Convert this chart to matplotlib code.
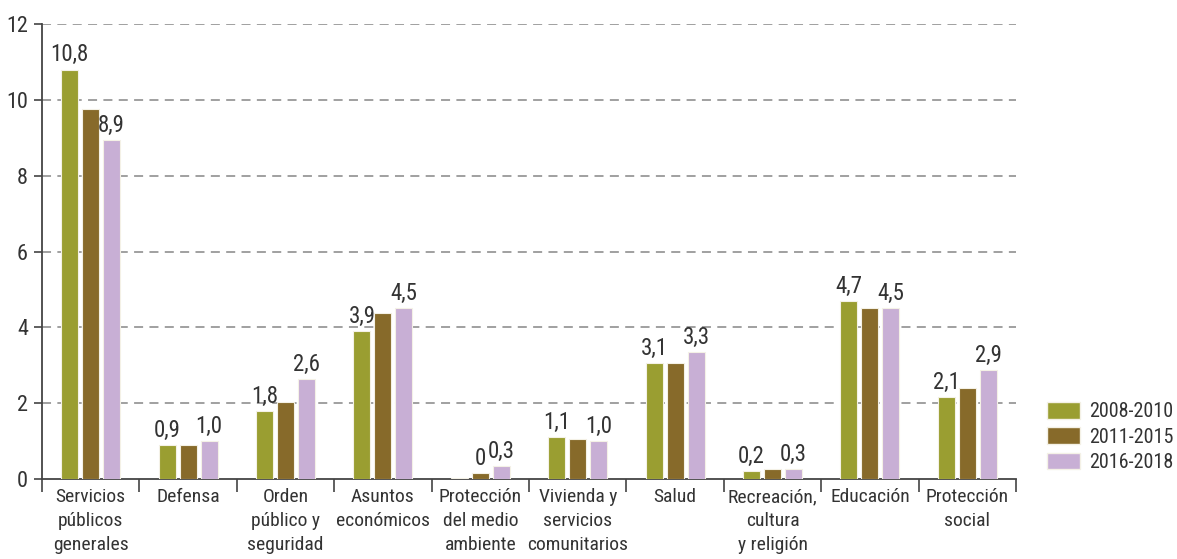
import matplotlib
matplotlib.use("Agg")
import matplotlib.pyplot as plt
import matplotlib.patches as mpatches
from matplotlib import font_manager as fm
import numpy as np

# pick a condensed font close to the original
available = set(f.name for f in fm.fontManager.ttflist)
for cand in ['Roboto Condensed', 'Archivo Narrow', 'PT Sans Narrow', 'Fira Sans Condensed',
             'Liberation Sans Narrow', 'DejaVu Sans']:
    if cand in available:
        font_name = cand
        break
plt.rcParams['font.family'] = [font_name, 'DejaVu Sans']

# Data
categories = ['Servicios\npúblicos\ngenerales', 'Defensa', 'Orden\npúblico y\nseguridad',
              'Asuntos\neconómicos', 'Protección\ndel medio\nambiente', 'Vivienda y\nservicios\ncomunitarios',
              'Salud', 'Recreación,\ncultura\ny religión', 'Educación', 'Protección\nsocial']
series_names = ['2008-2010', '2011-2015', '2016-2018']
v_2008_2010 = [10.8, 0.9, 1.8, 3.9, 0.03, 1.1, 3.05, 0.2, 4.7, 2.15]
v_2011_2015 = [9.75, 0.9, 2.03, 4.38, 0.17, 1.06, 3.05, 0.27, 4.5, 2.39]
v_2016_2018 = [8.95, 1.0, 2.63, 4.5, 0.33, 1.0, 3.35, 0.27, 4.5, 2.88]
labels_2008_2010 = ['10,8', '0,9', '1,8', '3,9', '', '1,1', '3,1', '0,2', '4,7', '2,1']
labels_2011_2015 = ['', '', '', '', '0', '', '', '', '', '']
labels_2016_2018 = ['8,9', '1,0', '2,6', '4,5', '0,3', '1,0', '3,3', '0,3', '4,5', '2,9']

colors = ['#9A9E31', '#876A2A', '#C8AFD5']
txt_color = '#333333'

W, H = 1177, 559
fig = plt.figure(figsize=(W / 100, H / 100), dpi=100)
ax = fig.add_axes([42 / W, 80 / H, (1016 - 42) / W, (479 - 24) / H])

x = np.arange(len(categories))
bar_w = 0.175
step = 0.215
all_vals = [v_2008_2010, v_2011_2015, v_2016_2018]
all_labels = [labels_2008_2010, labels_2011_2015, labels_2016_2018]

handles = []
for i, (vals, labs, c, name) in enumerate(zip(all_vals, all_labels, colors, series_names)):
    pos = x + (i - 1) * step
    bars = ax.bar(pos, vals, width=bar_w, color=c, edgecolor='#f4f1e6', linewidth=0.8,
                  zorder=3, label=name)
    for b, lab in zip(bars, labs):
        if lab:
            ax.text(b.get_x() + b.get_width() / 2, b.get_height() + 0.08, lab,
                    ha='center', va='bottom', fontsize=16.5, color=txt_color, zorder=4)
    handles.append(mpatches.Patch(facecolor=c, edgecolor='#f4f1e6', label=name))

ax.set_xlim(-0.5, len(categories) - 0.5)
ax.set_ylim(0, 12)
ax.set_yticks(np.arange(0, 13, 2))
ax.tick_params(axis='y', labelsize=16, length=6, width=1.2, color='#444444',
               labelcolor=txt_color, pad=4)

# group separators on x axis
ax.set_xticks(np.arange(-0.5, len(categories), 1.0))
ax.set_xticklabels([])
ax.tick_params(axis='x', length=9, width=1.2, color='#444444')
for xi, cat in zip(x, categories):
    ax.text(xi, -0.25, cat, ha='center', va='top', fontsize=14, color=txt_color,
            linespacing=1.42)

for y in np.arange(2, 13, 2):
    ax.axhline(y, color='#999999', linestyle=(0, (5, 3.5)), linewidth=1.3, zorder=1)

for s in ['top', 'right']:
    ax.spines[s].set_visible(False)
for s in ['left', 'bottom']:
    ax.spines[s].set_color('#444444')
    ax.spines[s].set_linewidth(1.3)

fig.legend(handles=handles, loc='upper left', bbox_to_anchor=(1047 / W, 1 - 402 / H),
           frameon=False, fontsize=14.5, handlelength=1.65, handleheight=0.9,
           handletextpad=0.42, labelspacing=0.3, borderpad=0, borderaxespad=0,
           labelcolor=txt_color)

fig.savefig('out.png', dpi=100)
